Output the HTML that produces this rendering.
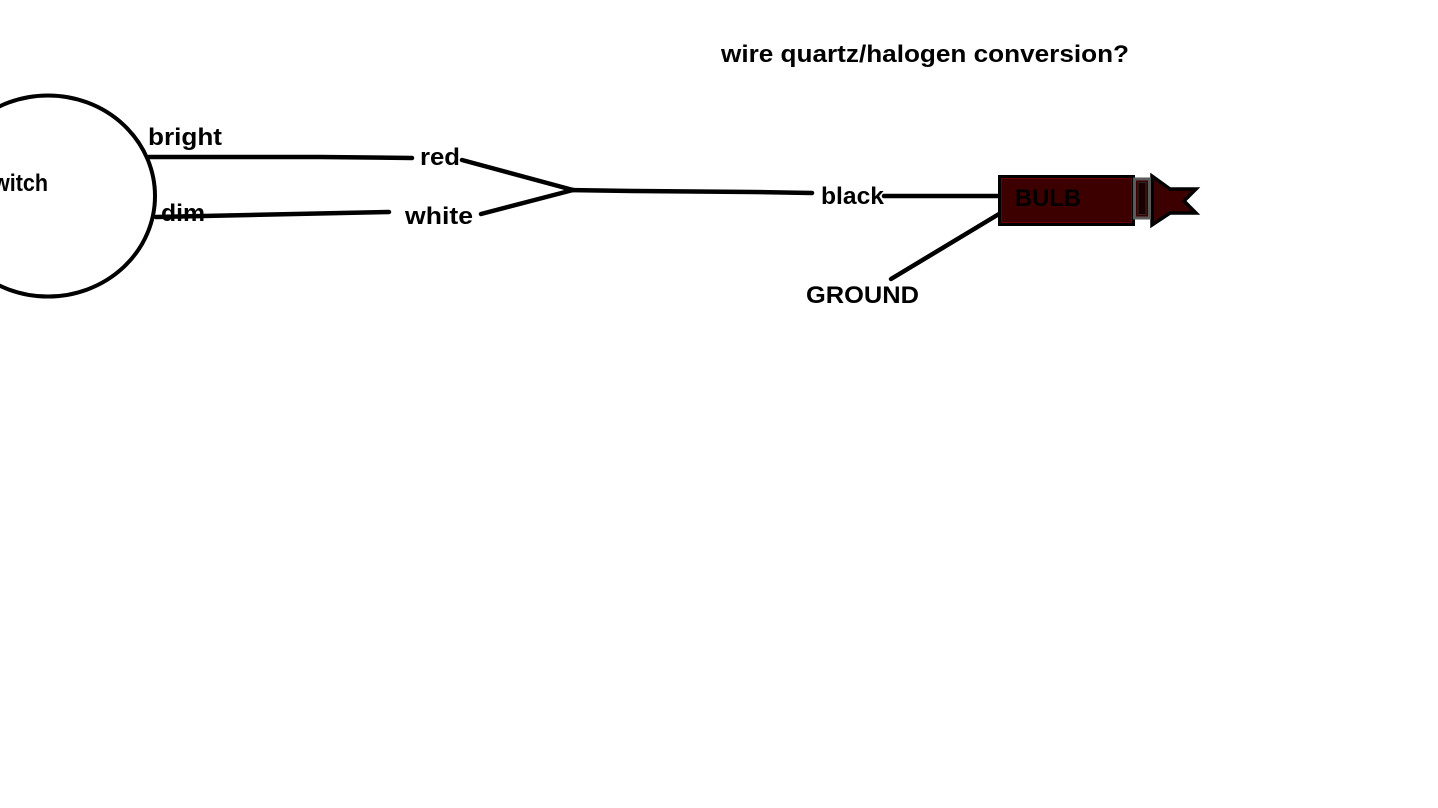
<!DOCTYPE html>
<html>
<head>
<meta charset="utf-8">
<style>
  html,body{margin:0;padding:0;background:#fff;}
  body{width:1438px;height:808px;overflow:hidden;}
  svg{display:block;}
  text{font-family:"Liberation Sans",sans-serif;font-weight:bold;font-size:24px;fill:#000;}
</style>
</head>
<body>
<svg width="1438" height="808" viewBox="0 0 1438 808" xmlns="http://www.w3.org/2000/svg">
  <rect x="0" y="0" width="1438" height="808" fill="#fff"/>

  <!-- title -->
  <text x="721" y="62" textLength="408" lengthAdjust="spacingAndGlyphs">wire quartz/halogen conversion?</text>

  <!-- switch circle -->
  <ellipse cx="48" cy="196" rx="107" ry="100.5" fill="none" stroke="#000" stroke-width="4"/>
  <text x="-7" y="191" textLength="55" lengthAdjust="spacingAndGlyphs">witch</text>

  <!-- wires -->
  <g stroke="#000" stroke-width="4.5" stroke-linecap="round" fill="none">
    <polyline points="149,157 320,157 412,158"/>
    <polyline points="156,217 250,215 389,212"/>
    <line x1="462" y1="160" x2="573" y2="190"/>
    <line x1="481" y1="214" x2="573" y2="190"/>
    <polyline points="566,190 633,191 753,192 812,193"/>
    <line x1="884" y1="196" x2="999" y2="196"/>
    <line x1="891" y1="279" x2="999" y2="214"/>
  </g>

  <!-- labels -->
  <text x="148" y="145" textLength="74" lengthAdjust="spacingAndGlyphs">bright</text>
  <text x="161" y="221" textLength="44" lengthAdjust="spacingAndGlyphs">dim</text>
  <text x="420" y="165" textLength="40" lengthAdjust="spacingAndGlyphs">red</text>
  <text x="405" y="224" textLength="68" lengthAdjust="spacingAndGlyphs">white</text>
  <text x="821" y="204" textLength="63" lengthAdjust="spacingAndGlyphs">black</text>
  <text x="806" y="303" textLength="113" lengthAdjust="spacingAndGlyphs">GROUND</text>

  <!-- bulb -->
  <polygon points="1152,176 1170,189 1196,189 1184,201 1196,213 1170,213 1152,225" fill="#3d0000" stroke="#000" stroke-width="3.5" stroke-linejoin="miter"/>
  <rect x="999.5" y="176.5" width="134" height="48" fill="#3d0000" stroke="#000" stroke-width="3"/>
  <rect x="1001.5" y="178.5" width="130" height="44" fill="none" stroke="#6a0000" stroke-width="1"/>
  <rect x="1134.5" y="179" width="15" height="39" fill="#3d0000" stroke="#5a5a5a" stroke-width="3"/>
  <rect x="1138" y="182.5" width="8" height="32" fill="#1a0000" stroke="#2a2a2a" stroke-width="1"/>
  <text x="1015" y="206" textLength="66" lengthAdjust="spacingAndGlyphs">BULB</text>
</svg>
</body>
</html>
